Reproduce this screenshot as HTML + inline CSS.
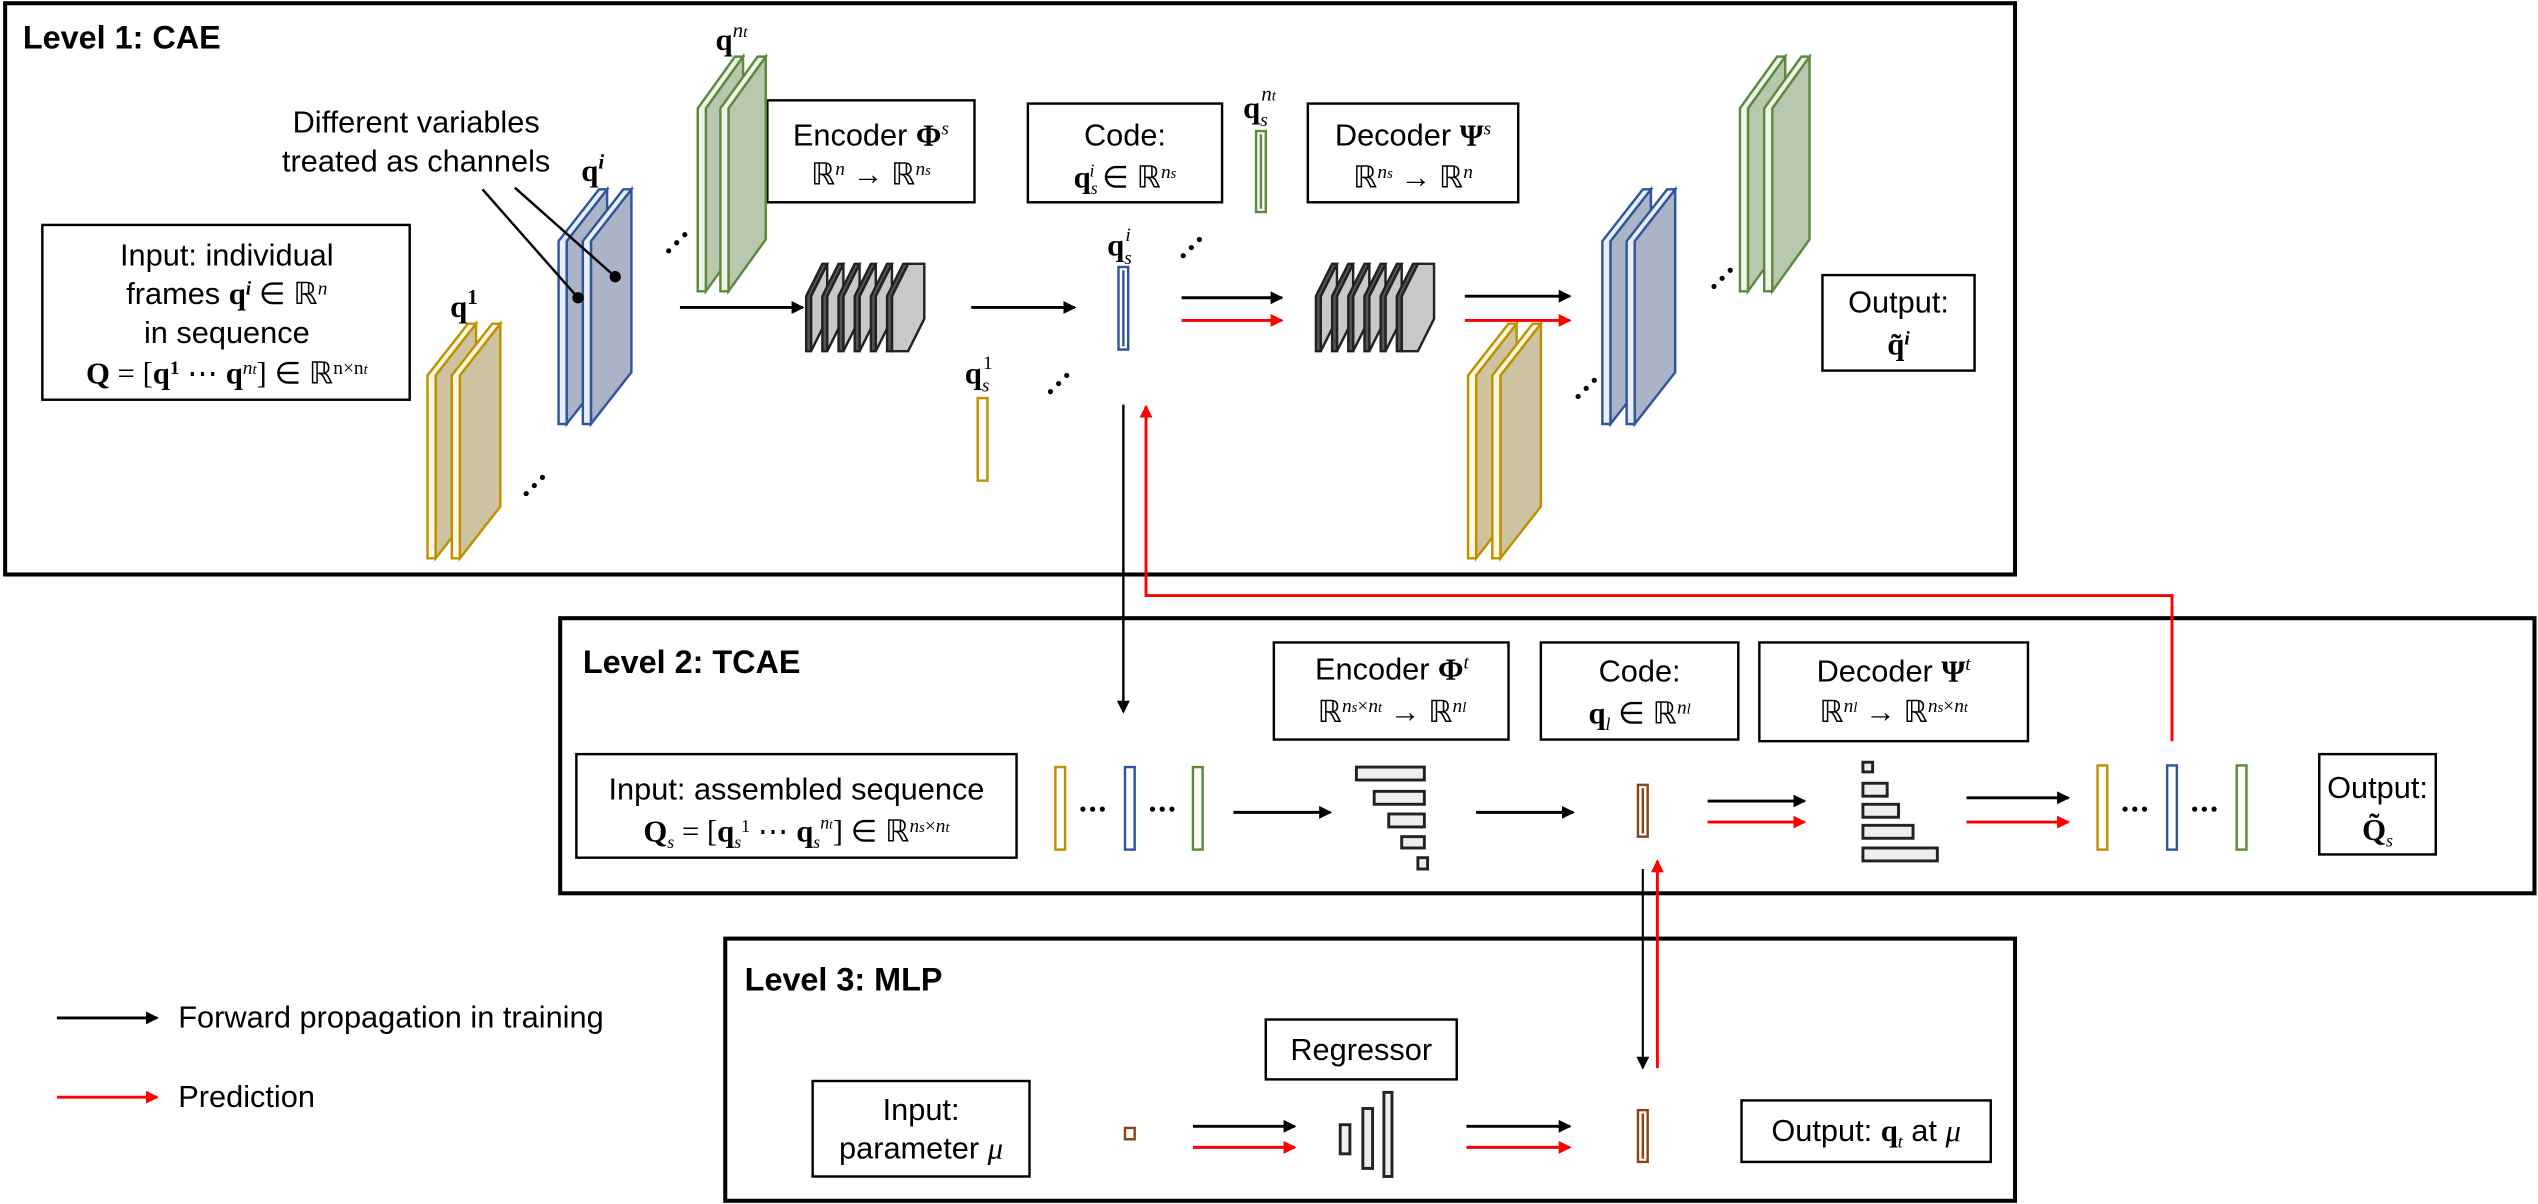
<!DOCTYPE html>
<html><head><meta charset="utf-8"><style>
html,body{margin:0;padding:0;background:#fff}
svg{display:block}
text{font-family:"Liberation Sans",sans-serif;font-size:19px;fill:#000}
.m{font-family:"Liberation Serif",serif}
.t{font-weight:bold;font-size:20px}
</style></head><body>
<svg width="2538" height="1204" viewBox="0 0 1568 744" xmlns="http://www.w3.org/2000/svg">
<defs>
<marker id="ab" markerWidth="8" markerHeight="8" refX="7" refY="4" orient="auto" markerUnits="userSpaceOnUse"><path d="M0,0L8,4L0,8z" fill="#000"/></marker>
<marker id="ar" markerWidth="8" markerHeight="8" refX="7" refY="4" orient="auto" markerUnits="userSpaceOnUse"><path d="M0,0L8,4L0,8z" fill="#f00"/></marker>
<g id="sy" stroke="#c09000" stroke-width="1.5"><polygon points="5,0 5,-113 30,-145 30,-32" fill="#cdc3a0"/><polygon points="0,0 0,-113 25,-145 30,-145 5,-113 5,0" fill="#fff8e0"/></g>
<g id="sb" stroke="#2f55a0" stroke-width="1.5"><polygon points="5,0 5,-113 30,-145 30,-32" fill="#aab4c6"/><polygon points="0,0 0,-113 25,-145 30,-145 5,-113 5,0" fill="#e8eefa"/></g>
<g id="sg" stroke="#5a8a3a" stroke-width="1.5"><polygon points="5,0 5,-113 28,-145 28,-32" fill="#b7c8ae"/><polygon points="0,0 0,-113 23,-145 28,-145 5,-113 5,0" fill="#eef6ea"/></g>
<g id="gp" stroke="#222" stroke-width="1.5"><polygon points="3,0 3,-34 13,-54 13,-20" fill="#c8c8c8"/><polygon points="0,0 0,-34 10,-54 13,-54 3,-34 3,0" fill="#555"/></g>
<g id="gs"><use href="#gp" x="0"/><use href="#gp" x="10"/><use href="#gp" x="20"/><use href="#gp" x="30"/><use href="#gp" x="40"/><g stroke="#222" stroke-width="1.5"><polygon points="53,0 53,-34 63,-54 73,-54 73,-20 63,0" fill="#c8c8c8"/><polygon points="50,0 50,-34 60,-54 63,-54 53,-34 53,0" fill="#555"/></g></g>
</defs>

<g fill="none" stroke="#000" stroke-width="2.5">
<rect x="3" y="2" width="1242" height="353"/>
<rect x="346" y="382" width="1220" height="170"/>
<rect x="448" y="580" width="797" height="162"/>
</g>
<text x="14" y="30" class="t">Level 1: CAE</text>
<text x="360" y="416" class="t">Level 2: TCAE</text>
<text x="460" y="612" class="t">Level 3: MLP</text>

<g fill="#fff" stroke="#000" stroke-width="1.5">
<rect x="26" y="139" width="227" height="108"/>
<rect x="474" y="62" width="128" height="63"/>
<rect x="635" y="64" width="120" height="61"/>
<rect x="808" y="64" width="130" height="61"/>
<rect x="1126" y="170" width="94" height="59"/>
<rect x="356" y="466" width="272" height="64"/>
<rect x="787" y="397" width="145" height="60"/>
<rect x="952" y="397" width="122" height="60"/>
<rect x="1087" y="397" width="166" height="61"/>
<rect x="1433" y="466" width="72" height="62"/>
<rect x="502" y="668" width="134" height="59"/>
<rect x="782" y="630" width="118" height="37"/>
<rect x="1076" y="680" width="154" height="38"/>
</g>

<g text-anchor="middle">
<text x="140" y="164" font-size="18">Input: individual</text>
<text x="140" y="188" font-size="18">frames <tspan class="m" font-weight="bold">q</tspan><tspan class="m" font-weight="bold" font-style="italic" dy="-6" font-size="12">i</tspan><tspan dy="6" class="m"> ∈ ℝ</tspan><tspan class="m" font-style="italic" dy="-6" font-size="12">n</tspan></text>
<text x="140" y="212" font-size="18">in sequence</text>
<text x="140" y="237" class="m" font-size="18"><tspan font-weight="bold">Q</tspan> = [<tspan font-weight="bold">q</tspan><tspan dy="-6" font-size="12" font-weight="bold">1</tspan><tspan dy="6"> ⋯ </tspan><tspan font-weight="bold">q</tspan><tspan dy="-6" font-size="12" font-style="italic">n</tspan><tspan font-size="9" font-style="italic">t</tspan><tspan dy="6">] ∈ ℝ</tspan><tspan dy="-6" font-size="12">n×n</tspan><tspan font-size="9" font-style="italic">t</tspan></text>
<text x="257" y="82">Different variables</text>
<text x="257" y="106">treated as channels</text>
<text x="538" y="90" font-size="18">Encoder <tspan class="m" font-weight="bold">Φ</tspan><tspan class="m" dy="-7" font-size="12" font-style="italic">s</tspan></text>
<text x="538" y="114" class="m" font-size="18">ℝ<tspan dy="-6" font-size="12" font-style="italic">n</tspan><tspan dy="6"> → ℝ</tspan><tspan dy="-6" font-size="12" font-style="italic">n</tspan><tspan font-size="9" font-style="italic">s</tspan></text>
<text x="695" y="90" font-size="18">Code:</text>
<text x="695" y="116" class="m" font-size="18"><tspan font-weight="bold">q</tspan><tspan font-size="11" font-style="italic" dy="4">s</tspan><tspan font-size="11" font-style="italic" dx="-5" dy="-11">i</tspan><tspan dy="7"> ∈ ℝ</tspan><tspan dy="-6" font-size="12" font-style="italic">n</tspan><tspan font-size="9" font-style="italic">s</tspan></text>
<text x="873" y="90" font-size="18">Decoder <tspan class="m" font-weight="bold">Ψ</tspan><tspan class="m" dy="-7" font-size="12" font-style="italic">s</tspan></text>
<text x="873" y="116" class="m" font-size="18">ℝ<tspan dy="-6" font-size="12" font-style="italic">n</tspan><tspan font-size="9" font-style="italic">s</tspan><tspan dy="6"> → ℝ</tspan><tspan dy="-6" font-size="12" font-style="italic">n</tspan></text>
<text x="1173" y="193" font-size="18">Output:</text>
<text x="1173" y="219" class="m" font-weight="bold">q̃<tspan dy="-6" font-size="12" font-style="italic">i</tspan></text>

<text x="492" y="494" font-size="18">Input: assembled sequence</text>
<text x="492" y="520" class="m" font-size="18"><tspan font-weight="bold">Q</tspan><tspan font-size="11" font-style="italic" dy="4">s</tspan><tspan dy="-4"> = [</tspan><tspan font-weight="bold">q</tspan><tspan font-size="11" dy="4" font-style="italic">s</tspan><tspan font-size="11" dy="-10">1</tspan><tspan dy="6"> ⋯ </tspan><tspan font-weight="bold">q</tspan><tspan font-size="11" dy="4" font-style="italic">s</tspan><tspan font-size="11" dy="-12" font-style="italic">n</tspan><tspan font-size="8" font-style="italic">t</tspan><tspan dy="8">] ∈ ℝ</tspan><tspan dy="-6" font-size="12" font-style="italic">n</tspan><tspan font-size="9" font-style="italic">s</tspan><tspan font-size="12">×</tspan><tspan font-size="12" font-style="italic">n</tspan><tspan font-size="9" font-style="italic">t</tspan></text>
<text x="860" y="420" font-size="18">Encoder <tspan class="m" font-weight="bold">Φ</tspan><tspan class="m" dy="-7" font-size="12" font-style="italic">t</tspan></text>
<text x="860" y="446" class="m" font-size="18">ℝ<tspan dy="-6" font-size="12" font-style="italic">n</tspan><tspan font-size="9" font-style="italic">s</tspan><tspan font-size="12">×</tspan><tspan font-size="12" font-style="italic">n</tspan><tspan font-size="9" font-style="italic">t</tspan><tspan dy="6"> → ℝ</tspan><tspan dy="-6" font-size="12" font-style="italic">n</tspan><tspan font-size="9" font-style="italic">l</tspan></text>
<text x="1013" y="421" font-size="18">Code:</text>
<text x="1013" y="447" class="m" font-size="18"><tspan font-weight="bold">q</tspan><tspan font-size="11" font-style="italic" dy="4">l</tspan><tspan dy="-4"> ∈ ℝ</tspan><tspan dy="-6" font-size="12" font-style="italic">n</tspan><tspan font-size="9" font-style="italic">l</tspan></text>
<text x="1170" y="421" font-size="18">Decoder <tspan class="m" font-weight="bold">Ψ</tspan><tspan class="m" dy="-7" font-size="12" font-style="italic">t</tspan></text>
<text x="1170" y="446" class="m" font-size="18">ℝ<tspan dy="-6" font-size="12" font-style="italic">n</tspan><tspan font-size="9" font-style="italic">l</tspan><tspan dy="6"> → ℝ</tspan><tspan dy="-6" font-size="12" font-style="italic">n</tspan><tspan font-size="9" font-style="italic">s</tspan><tspan font-size="12">×</tspan><tspan font-size="12" font-style="italic">n</tspan><tspan font-size="9" font-style="italic">t</tspan></text>
<text x="1469" y="493" font-size="18">Output:</text>
<text x="1469" y="519" class="m" font-weight="bold">Q̃<tspan font-size="11" font-style="italic" font-weight="normal" dy="4">s</tspan></text>

<text x="569" y="692" font-size="18">Input:</text>
<text x="569" y="716" font-size="18">parameter <tspan class="m" font-style="italic">μ</tspan></text>
<text x="841" y="655" font-size="18">Regressor</text>
<text x="1153" y="705" font-size="18">Output: <tspan class="m" font-weight="bold">q</tspan><tspan class="m" font-size="11" font-style="italic" dy="4">t</tspan><tspan dy="-4"> at </tspan><tspan class="m" font-style="italic">μ</tspan></text>
</g>

<line x1="35" y1="629" x2="97" y2="629" stroke="#000" stroke-width="1.8" marker-end="url(#ab)"/>
<text x="110" y="635">Forward propagation in training</text>
<line x1="35" y1="678" x2="97" y2="678" stroke="#f00" stroke-width="1.8" marker-end="url(#ar)"/>
<text x="110" y="684">Prediction</text>

<use href="#sy" x="264" y="345"/><use href="#sy" x="279" y="345"/>
<use href="#sb" x="345" y="262"/><use href="#sb" x="360" y="262"/>
<use href="#sg" x="431" y="180"/><use href="#sg" x="445" y="180"/>
<use href="#sy" x="907" y="345"/><use href="#sy" x="922" y="345"/>
<use href="#sb" x="990" y="262"/><use href="#sb" x="1005" y="262"/>
<use href="#sg" x="1075" y="180"/><use href="#sg" x="1090" y="180"/>
<use href="#gs" x="498" y="217"/>
<use href="#gs" x="813" y="217"/>

<text x="278" y="196" class="m" font-weight="bold" font-size="19">q<tspan dy="-8" font-size="13">1</tspan></text>
<text x="359" y="112" class="m" font-weight="bold" font-size="19">q<tspan dy="-8" font-size="13" font-style="italic">i</tspan></text>
<text x="442" y="31" class="m" font-weight="bold" font-size="19">q<tspan dy="-8" font-size="13" font-style="italic" font-weight="normal">n</tspan><tspan font-size="10" font-style="italic" font-weight="normal">t</tspan></text>
<text x="768" y="73" class="m" font-weight="bold" font-size="18">q<tspan dy="5" font-size="12" font-style="italic" font-weight="normal">s</tspan><tspan dy="-16" dx="-4" font-size="13" font-style="italic" font-weight="normal">n</tspan><tspan font-size="9" font-style="italic" font-weight="normal">t</tspan></text>
<text x="684" y="158" class="m" font-weight="bold" font-size="18">q<tspan dy="5" font-size="12" font-style="italic" font-weight="normal">s</tspan><tspan dy="-14" dx="-4" font-size="12" font-style="italic" font-weight="normal">i</tspan></text>
<text x="596" y="237" class="m" font-weight="bold" font-size="18">q<tspan dy="5" font-size="12" font-style="italic" font-weight="normal">s</tspan><tspan dy="-14" dx="-4" font-size="12" font-weight="normal">1</tspan></text>

<g stroke="#000" stroke-width="1.5"><line x1="298" y1="117" x2="357" y2="184"/><line x1="318" y1="116" x2="380" y2="171"/></g>
<circle cx="357" cy="184" r="3.5"/><circle cx="380" cy="171" r="3.5"/>

<g fill="#000">
<g transform="translate(330,300)"><circle cx="-5" cy="5" r="1.6"/><circle cx="0" cy="0" r="1.6"/><circle cx="5" cy="-5" r="1.6"/></g>
<g transform="translate(418,150)"><circle cx="-5" cy="5" r="1.6"/><circle cx="0" cy="0" r="1.6"/><circle cx="5" cy="-5" r="1.6"/></g>
<g transform="translate(654,237)"><circle cx="-5" cy="5" r="1.6"/><circle cx="0" cy="0" r="1.6"/><circle cx="5" cy="-5" r="1.6"/></g>
<g transform="translate(736,153)"><circle cx="-5" cy="5" r="1.6"/><circle cx="0" cy="0" r="1.6"/><circle cx="5" cy="-5" r="1.6"/></g>
<g transform="translate(980,240)"><circle cx="-5" cy="5" r="1.6"/><circle cx="0" cy="0" r="1.6"/><circle cx="5" cy="-5" r="1.6"/></g>
<g transform="translate(1064,172)"><circle cx="-5" cy="5" r="1.6"/><circle cx="0" cy="0" r="1.6"/><circle cx="5" cy="-5" r="1.6"/></g>
<circle cx="669" cy="500" r="1.6"/><circle cx="675" cy="500" r="1.6"/><circle cx="681" cy="500" r="1.6"/>
<circle cx="712" cy="500" r="1.6"/><circle cx="718" cy="500" r="1.6"/><circle cx="724" cy="500" r="1.6"/>
<circle cx="1313" cy="500" r="1.6"/><circle cx="1319" cy="500" r="1.6"/><circle cx="1325" cy="500" r="1.6"/>
<circle cx="1356" cy="500" r="1.6"/><circle cx="1362" cy="500" r="1.6"/><circle cx="1368" cy="500" r="1.6"/>
</g>

<g fill="#fff" stroke-width="1.5">
<rect x="776" y="81" width="6" height="50" stroke="#5a8a3a"/>
<rect x="691" y="165" width="6" height="51" stroke="#2f55a0"/>
<rect x="604" y="246" width="6" height="51" stroke="#c09000"/>
<rect x="652" y="474" width="6" height="51" stroke="#c09000"/>
<rect x="695" y="474" width="6" height="51" stroke="#2f55a0"/>
<rect x="737" y="474" width="6" height="51" stroke="#5a8a3a"/>
<rect x="1296" y="473" width="6" height="52" stroke="#c09000"/>
<rect x="1339" y="473" width="6" height="52" stroke="#2f55a0"/>
<rect x="1382" y="473" width="6" height="52" stroke="#5a8a3a"/>
<rect x="1012" y="485" width="6" height="32" stroke="#8b4513"/>
<rect x="1012" y="686" width="6" height="32" stroke="#8b4513"/>
<rect x="695" y="697" width="6" height="7" stroke="#8b4513"/>
</g>
<g stroke-width="1.5" fill="none"><line x1="779" y1="83" x2="779" y2="129" stroke="#5a8a3a"/><line x1="694" y1="167" x2="694" y2="214" stroke="#2f55a0"/><line x1="1015" y1="487" x2="1015" y2="515" stroke="#8b4513"/><line x1="1015" y1="688" x2="1015" y2="716" stroke="#8b4513"/></g>

<g fill="#eee" stroke="#222" stroke-width="1.8">
<rect x="838" y="474" width="42" height="8"/>
<rect x="849" y="489" width="31" height="8"/>
<rect x="858" y="503" width="22" height="8"/>
<rect x="866" y="517" width="14" height="7"/>
<rect x="876" y="530" width="6" height="7"/>
<rect x="1151" y="471" width="6" height="6"/>
<rect x="1151" y="484" width="15" height="8"/>
<rect x="1151" y="497" width="22" height="8"/>
<rect x="1151" y="510" width="31" height="8"/>
<rect x="1151" y="524" width="46" height="8"/>
<rect x="828" y="695" width="6" height="18"/>
<rect x="842" y="685" width="6" height="37"/>
<rect x="855" y="675" width="5" height="52"/>
</g>

<g stroke="#000" stroke-width="1.8" marker-end="url(#ab)">
<line x1="420" y1="190" x2="496" y2="190"/>
<line x1="600" y1="190" x2="664" y2="190"/>
<line x1="730" y1="184" x2="792" y2="184"/>
<line x1="905" y1="183" x2="970" y2="183"/>
<line x1="762" y1="502" x2="822" y2="502"/>
<line x1="912" y1="502" x2="972" y2="502"/>
<line x1="1055" y1="495" x2="1115" y2="495"/>
<line x1="1215" y1="493" x2="1278" y2="493"/>
<line x1="737" y1="696" x2="800" y2="696"/>
<line x1="906" y1="696" x2="970" y2="696"/>
<line x1="694" y1="250" x2="694" y2="440" stroke-width="1.5"/>
<line x1="1015" y1="537" x2="1015" y2="660" stroke-width="1.3"/>
</g>
<g stroke="#f00" stroke-width="1.8" marker-end="url(#ar)" fill="none">
<line x1="730" y1="198" x2="792" y2="198"/>
<line x1="905" y1="198" x2="970" y2="198"/>
<line x1="1055" y1="508" x2="1115" y2="508"/>
<line x1="1215" y1="508" x2="1278" y2="508"/>
<line x1="737" y1="709" x2="800" y2="709"/>
<line x1="906" y1="709" x2="970" y2="709"/>
<polyline points="1342,458 1342,368 708,368 708,251"/>
<line x1="1024" y1="660" x2="1024" y2="532"/>
</g>
</svg>
</body></html>
